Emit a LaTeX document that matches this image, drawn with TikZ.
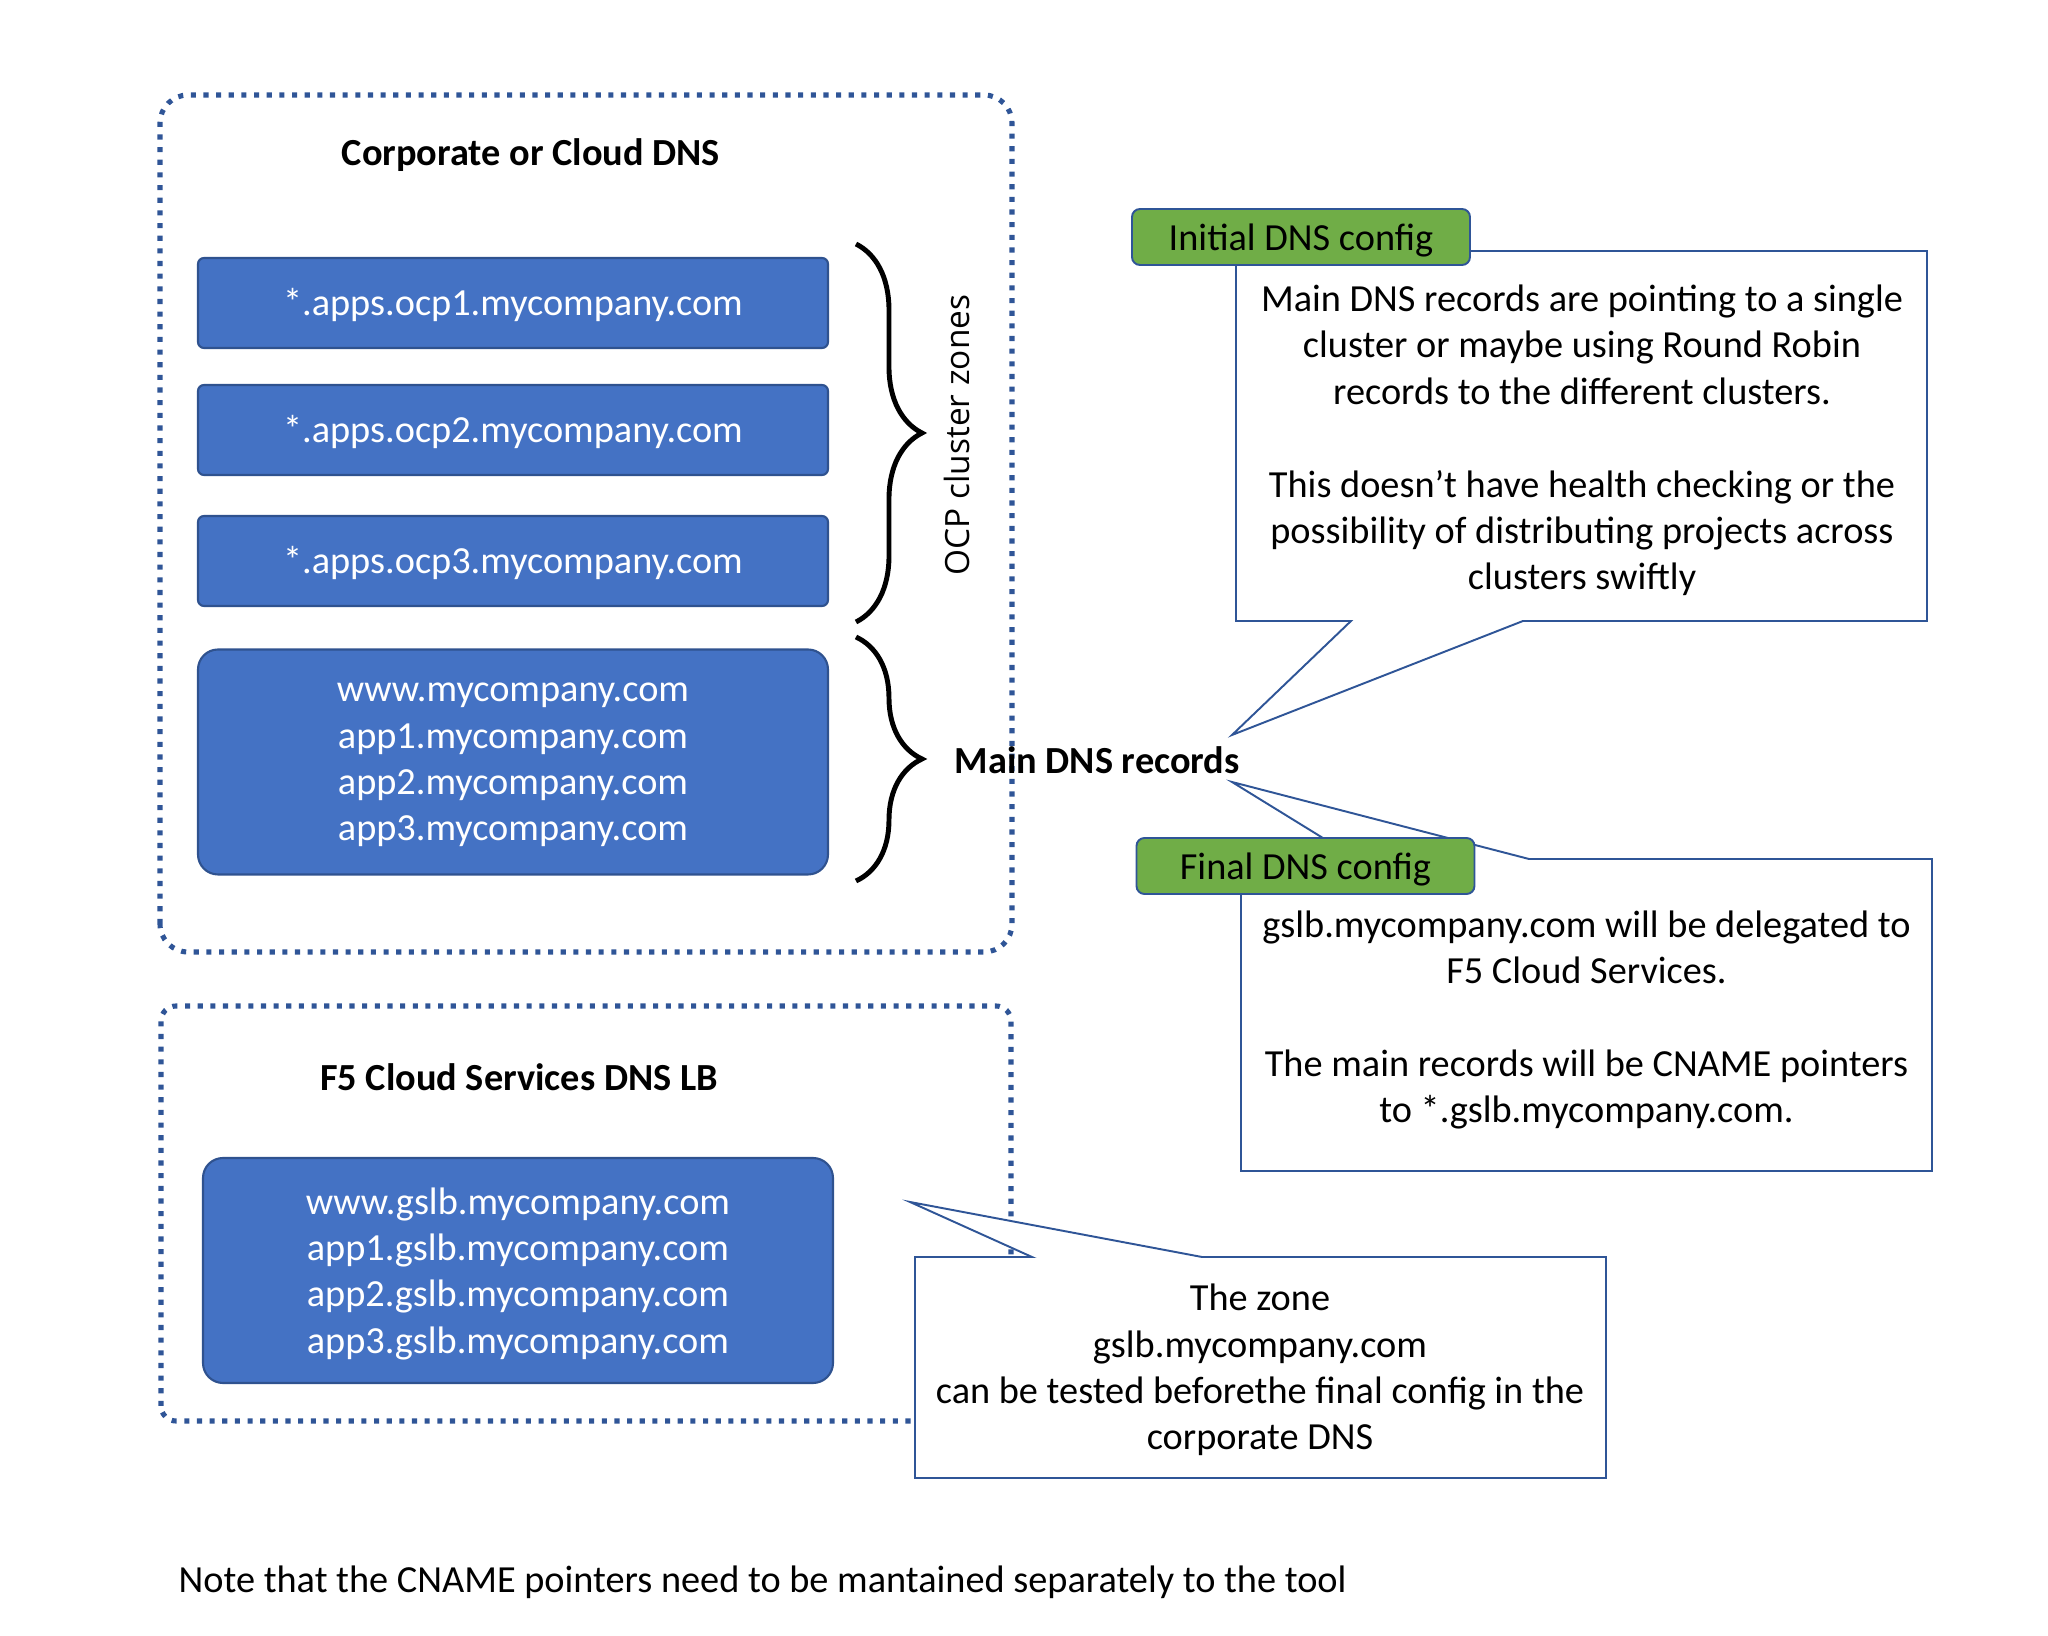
\documentclass[tikz,border=0pt]{standalone}
\usepackage{fontspec}
\setmainfont{Carlito}
\newfontfamily\ocpfont{Open Sans}
\usetikzlibrary{decorations.pathreplacing}
\definecolor{boxblue}{HTML}{4472C4}
\definecolor{boxedge}{HTML}{2F528F}
\definecolor{lineblue}{HTML}{2F5597}
\definecolor{tabgreen}{HTML}{70AD47}
\tikzset{
  zonebox/.style={draw=boxedge, fill=boxblue, line width=0.6pt, text=white, minimum width=6.3cm, align=center},
  smallzone/.style={zonebox, rounded corners=0.06cm, minimum height=0.9cm, text height=7.4pt, text depth=0pt},
  bigzone/.style={zonebox, rounded corners=0.2cm, minimum height=2.25cm, text depth=0pt},
  dnsframe/.style={draw=lineblue, line width=1.45pt, dash pattern=on 1.45pt off 2.15pt},
  callout/.style={draw=lineblue, fill=white, line width=0.55pt},
  tabnode/.style={draw=lineblue, fill=tabgreen, line width=0.55pt, rounded corners=0.08cm, minimum width=3.38cm, minimum height=0.56cm, text depth=0pt},
  zonebrace/.style={decorate, decoration={brace, amplitude=0.66cm}, line width=1.4pt},
}
\begin{document}
\begin{tikzpicture}[font=\fontsize{10.9}{13.2}\selectfont]
    \useasboundingbox (0,0) rectangle (20.48,16.36);
    \draw[dnsframe, rounded corners=0.28cm] (1.60,6.84) rectangle (10.12,15.41); %corporate DNS
    \draw[dnsframe, rounded corners=0.15cm] (1.61,2.15) rectangle (10.11,6.30); %F5
    \node (corpTitle) at (5.31,14.81) {\bfseries Corporate or Cloud DNS};
    \node[smallzone] (ocp1) at (5.13,13.33) {*.apps.ocp1.mycompany.com};
    \node[smallzone] (ocp2) at (5.13,12.06) {*.apps.ocp2.mycompany.com};
    \node[smallzone] (ocp3) at (5.13,10.75) {*.apps.ocp3.mycompany.com};
    \node[bigzone] (mainRec) at (5.13,8.74) {www.mycompany.com\\app1.mycompany.com\\app2.mycompany.com\\app3.mycompany.com};
    \draw[zonebrace] (8.56,13.92) -- (8.56,10.14);
    \node[rotate=90, font=\fontsize{9.5}{11}\ocpfont] (ocpLabel) at (9.57,12.01) {OCP cluster zones};
    \draw[zonebrace] (8.56,9.99) -- (8.56,7.55);
    \node[anchor=west, inner sep=0] (mainLabel) at (9.54,8.76) {\bfseries Main DNS records};
    \node (f5Title) at (5.19,5.59) {\bfseries F5 Cloud Services DNS LB};
    \node[bigzone] (gslbRec) at (5.18,3.655) {www.gslb.mycompany.com\\app1.gslb.mycompany.com\\app2.gslb.mycompany.com\\app3.gslb.mycompany.com};
    % callouts
    \draw[callout] (12.36,13.85) -- (19.27,13.85) -- (19.27,10.15) -- (15.23,10.15) -- (12.32,9.01) -- (13.51,10.15) -- (12.36,10.15) -- cycle;
    \node[tabnode] (initTab) at (13.01,13.99) {Initial DNS config};
    \node[align=center] (initNote) at (15.82,11.955) {Main DNS records are pointing to a single\\cluster or maybe using Round Robin\\records to the different clusters.\\[13.2pt]This doesn’t have health checking or the\\possibility of distributing projects across\\clusters swiftly};
    \draw[callout] (12.41,7.77) -- (13.57,7.77) -- (12.32,8.54) -- (15.29,7.77) -- (19.32,7.77) -- (19.32,4.65) -- (12.41,4.65) -- cycle;
    \node[tabnode] (finalTab) at (13.055,7.70) {Final DNS config};
    \node[align=center] (finalNote) at (15.865,6.16) {gslb.mycompany.com will be delegated to\\F5 Cloud Services.\\[13.2pt]The main records will be CNAME pointers\\to *.gslb.mycompany.com.};
    \draw[callout] (9.15,3.79) -- (10.32,3.79) -- (9.10,4.34) -- (12.02,3.79) -- (16.06,3.79) -- (16.06,1.58) -- (9.15,1.58) -- cycle;
    \node[align=center] (zoneNote) at (12.60,2.66) {The zone\\gslb.mycompany.com\\can be tested beforethe final config in the\\corporate DNS};
    \node[anchor=west, inner sep=0] (toolNote) at (1.78,0.54) {Note that the CNAME pointers need to be mantained separately to the tool};
  \end{tikzpicture}
\end{document}
